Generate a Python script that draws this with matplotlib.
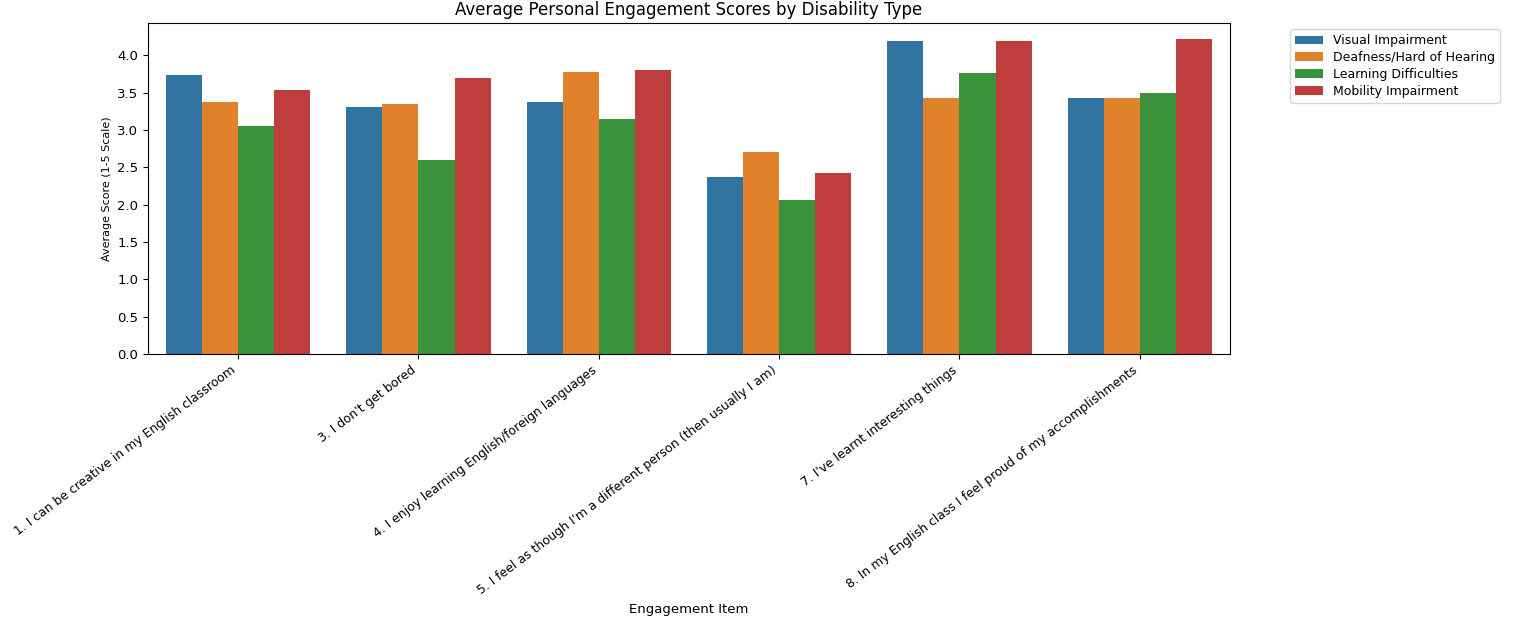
import matplotlib
matplotlib.use("Agg")
import matplotlib.pyplot as plt
import pandas as pd
import seaborn as sns

items = [
    "1. I can be creative in my English classroom",
    "3. I don't get bored",
    "4. I enjoy learning English/foreign languages",
    "5. I feel as though I'm a different person (then usually I am)",
    "7. I've learnt interesting things",
    "8. In my English class I feel proud of my accomplishments",
]
disabilities = [
    "Visual Impairment",
    "Deafness/Hard of Hearing",
    "Learning Difficulties",
    "Mobility Impairment",
]
visual = [3.74, 3.31, 3.38, 2.37, 4.19, 3.43]
deaf = [3.38, 3.35, 3.78, 2.71, 3.43, 3.43]
learning = [3.05, 2.60, 3.15, 2.06, 3.76, 3.49]
mobility = [3.53, 3.69, 3.80, 2.42, 4.19, 4.22]

scores = [visual, deaf, learning, mobility]
rows = []
for dis, vals in zip(disabilities, scores):
    for item, v in zip(items, vals):
        rows.append({"Engagement Item": item, "Disability": dis, "Score": v})
df = pd.DataFrame(rows)

fig = plt.figure(figsize=(15.35, 6.25), dpi=100)
ax = fig.add_axes([148 / 1535, 1 - 354 / 625, 1082 / 1535, 331 / 625])

sns.barplot(data=df, x="Engagement Item", y="Score", hue="Disability",
            hue_order=disabilities, palette="tab10", saturation=0.75,
            errorbar=None, ax=ax)

ax.set_title("Average Personal Engagement Scores by Disability Type", fontsize=12)
ax.set_xlabel("Engagement Item", fontsize=9.5)
ax.set_ylabel("Average Score (1-5 Scale)", fontsize=8)
ax.tick_params(axis="y", labelsize=9.5)
ax.tick_params(axis="x", labelsize=8.9)
plt.setp(ax.get_xticklabels(), rotation=37, ha="right")

ax.legend(bbox_to_anchor=(1.05, 1), loc="upper left", fontsize=9,
          labelspacing=0.3, handlelength=2.2)

fig.savefig("out.png", dpi=100, facecolor="white")
